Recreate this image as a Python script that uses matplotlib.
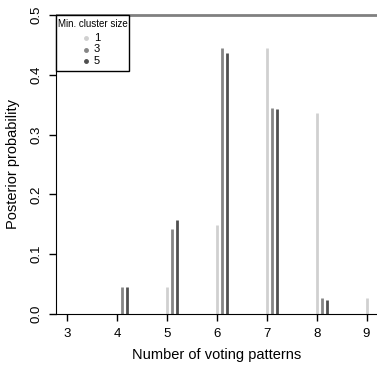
import matplotlib
matplotlib.use("Agg")
import numpy as np
from matplotlib import pyplot as plt
from matplotlib.patches import Rectangle

plt.rcParams['font.family'] = ['Liberation Sans', 'DejaVu Sans']

patterns = [3, 4, 5, 6, 7, 8, 9]
sizes = ['1', '3', '5']
prob_1 = [0.0, 0.0, 0.045, 0.149, 0.444, 0.336, 0.027]
prob_3 = [0.0, 0.045, 0.142, 0.444, 0.344, 0.026, 0.0]
prob_5 = [0.0, 0.045, 0.157, 0.436, 0.342, 0.023, 0.0]
colors = ['#d0d0d0', '#858585', '#4f4f4f']
offsets = [0.0, 0.1, 0.2]

W, H = 377, 366
fig = plt.figure(figsize=(W / 100, H / 100), dpi=100)
ax = fig.add_axes([56 / W, 52 / H, 1 - 56 / W, 1 - 52 / H])

x = np.array(patterns, dtype=float)
for probs, col, off in zip([prob_1, prob_3, prob_5], colors, offsets):
    p = np.array(probs)
    m = p > 0
    ax.vlines(x[m] + off, 0, p[m], colors=col, linewidth=2)

ax.axhline(0.5, color='#808080', linewidth=2, zorder=1)

ax.set_xlim(2.773, 9.21)
ax.set_ylim(0, 0.525)
ax.spines['top'].set_visible(False)
ax.spines['right'].set_visible(False)
ax.spines['left'].set_bounds(0, 0.5)
ax.set_xticks(patterns)
ax.set_yticks([0.0, 0.1, 0.2, 0.3, 0.4, 0.5])
ax.set_yticklabels(['0.0', '0.1', '0.2', '0.3', '0.4', '0.5'], rotation=90, va='center')
ax.tick_params(labelsize=9.5, length=5, width=1, pad=5)
ax.set_xlabel('Number of voting patterns', fontsize=10.5, labelpad=6)
ax.set_ylabel('Posterior probability', fontsize=10.5)
# centre the y label on the 0-0.5 range like the original
ax.yaxis.set_label_coords(-0.112, 0.25 / 0.525)

# legend box drawn by hand (pixel positions -> figure fraction)
def fx(px):
    return px / W

def fy(py):
    return 1 - py / H

box = Rectangle((fx(56), fy(71)), fx(129) - fx(56), fy(15) - fy(71),
                transform=fig.transFigure, facecolor='white',
                edgecolor='black', linewidth=1, zorder=5)
fig.add_artist(box)
fig.text(fx(92.5), fy(24), 'Min. cluster size', fontsize=7,
         ha='center', va='center', zorder=6)
for i, (lab, col) in enumerate(zip(sizes, colors)):
    yy = fy(38 + 11.5 * i)
    fig.add_artist(plt.Line2D([fx(86)], [yy], marker='o', markersize=2.5,
                              color=col, linestyle='none',
                              transform=fig.transFigure, zorder=6))
    fig.text(fx(94), yy, lab, fontsize=8, ha='left', va='center', zorder=6)

fig.savefig('out.png', dpi=100)
